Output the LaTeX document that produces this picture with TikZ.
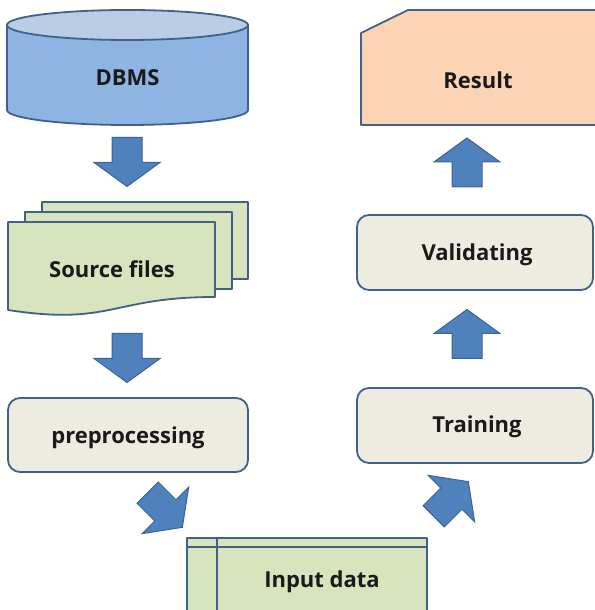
\documentclass[tikz,border=0pt]{standalone}
\usepackage{fontspec}
\setmainfont{Open Sans}
\definecolor{bord}{HTML}{41618C}
\definecolor{dbbody}{HTML}{8DB4E2}
\definecolor{dbtop}{HTML}{B9CDE5}
\definecolor{greenf}{HTML}{D7E4BD}
\definecolor{beige}{HTML}{EEECE1}
\definecolor{peach}{HTML}{FBD4B4}
\definecolor{arrf}{HTML}{4F81BD}
\definecolor{arrd}{HTML}{3A6397}
\definecolor{txt}{HTML}{1A1A1A}
\tikzset{
  shapeline/.style={draw=bord, line width=1.8pt, line join=round},
  lbl/.style={font=\fontsize{22}{26}\selectfont\bfseries, text=txt, inner sep=0pt},
  roundbox/.style={shapeline, fill=beige, rounded corners=12pt},
  arrowstyle/.style={draw=arrd, fill=arrf, line width=1pt, line join=miter},
  blockarrow/.pic={\path[arrowstyle] (-24.5,-15) -- (0.5,-15) -- (0.5,-33) -- (24.5,0) -- (0.5,33) -- (0.5,15) -- (-24.5,15) -- cycle;}
}
\begin{document}
\begin{tikzpicture}[x=1pt,y=1pt]
\useasboundingbox (0,0) rectangle (594,610);
% DBMS cylinder
\path[shapeline, fill=dbbody] (7,585) -- (7,500) arc[start angle=180, end angle=360, x radius=120.5, y radius=15] -- (248,585) -- cycle;
\path[shapeline, fill=dbtop] (127.5,585) ellipse[x radius=120.5, y radius=15];
\node[lbl] (dbms) at (127.5,532) {DBMS};
% Source files
\path[shapeline, fill=greenf] (42,331) rectangle (248,408);
\path[shapeline, fill=greenf] (25,321) rectangle (232,398);
\path[shapeline, fill=greenf] (8,388) -- (215,388) -- (215,313) .. controls (111.5,313) and (111.5,284) .. (8,300) -- cycle;
\node[lbl] (src) at (112,341) {Source files};
% preprocessing
\path[roundbox] (8,138) rectangle (248,212);
\node[lbl] (pre) at (128,172) {preprocessing};
% Input data
\path[shapeline, fill=greenf] (187,-10) rectangle (427,72);
\path[shapeline] (187,63) -- (427,63);
\path[shapeline] (217,72) -- (217,-10);
\node[lbl] (inp) at (322,28) {Input data};
% Training
\path[roundbox] (357,147) rectangle (593,222);
\node[lbl] (train) at (477,183) {Training};
% Validating
\path[roundbox] (357,320) rectangle (593,395);
\node[lbl] (valid) at (477,355) {Validating};
% Result
\path[shapeline, fill=peach] (408,600) -- (600,600) -- (600,485) -- (361,485) -- (361,577) -- cycle;
\node[lbl] (result) at (478,530) {Result};
% block arrows
\pic[rotate=-90] at (127,448) {blockarrow};
\pic[rotate=-90] at (127,252) {blockarrow};
\pic[rotate=-45] at (165,100) {blockarrow};
\pic[rotate=45] at (451,111) {blockarrow};
\pic[rotate=90] at (467,276) {blockarrow};
\pic[rotate=90] at (467,447.5) {blockarrow};
\end{tikzpicture}
\end{document}
